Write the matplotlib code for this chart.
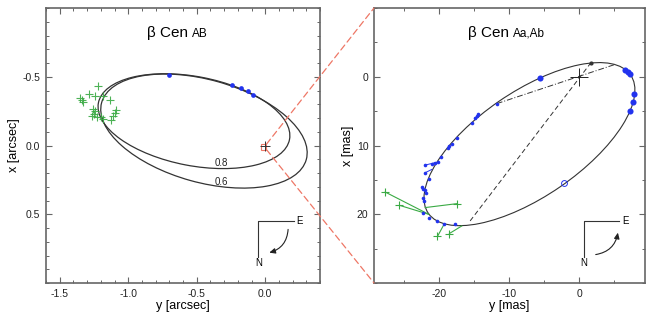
import matplotlib
matplotlib.use("Agg")
import matplotlib.pyplot as plt
from matplotlib.patches import Ellipse, Rectangle, FancyArrowPatch, ConnectionPatch
from matplotlib.ticker import MultipleLocator, FixedLocator, FormatStrFormatter

plt.rcParams['font.family'] = ['Liberation Sans', 'DejaVu Sans']
plt.rcParams['axes.unicode_minus'] = False

BLUE = '#2233ee'
GREEN = '#3aaa44'
RED = '#ee7766'
SPINE = '#666666'

# ---- left panel: beta Cen AB (arcsec) ----
ab_xticks = [-1.5, -1.0, -0.5, 0.0]
ab_yticks = [-0.5, 0.0, 0.5]

ab_obs_y = [-0.70, -0.243, -0.175, -0.126, -0.090]
ab_obs_x = [-0.514, -0.44, -0.418, -0.393, -0.367]

ab_old_y = [-1.218, -1.283, -1.24, -1.351, -1.332, -1.181, -1.13, -1.259, -1.24,
            -1.247, -1.266, -1.227, -1.181, -1.125, -1.108, -1.09, -1.10, -1.198,
            -1.337]
ab_old_x = [-0.43, -0.377, -0.362, -0.343, -0.319, -0.357, -0.331, -0.266, -0.249,
            -0.232, -0.213, -0.208, -0.196, -0.183, -0.217, -0.256, -0.237, -0.208,
            -0.328]

# orbit solutions: (centre y, centre x, 2a, 2b, angle, label, label y, label x)
ab_orbits = [(-0.52, -0.177, 1.42, 0.648, 10.8, '0.8', -0.32, 0.130),
             (-0.447, -0.105, 1.55, 0.746, 15.5, '0.6', -0.32, 0.266)]

# ---- right panel: beta Cen Aa,Ab (mas) ----
aa_xticks = [-20, -10, 0]
aa_yticks = [0, 10, 20]

aa_orbit = (-7.1, 9.8, 35.2, 15.2, -35.0)

aa_big_y = [-5.57, 6.57, 6.95, 7.19, 7.76, 7.67, 7.19]
aa_big_x = [0.19, -1.0, -0.62, -0.43, 2.51, 3.67, 4.93]

aa_small_y = [-11.76, -14.4, -14.6, -14.86, -15.33, -17.47, -18.19, -18.52, -18.76,
              -19.71, -20.1, -20.57, -21.04, -22.0, -22.0, -21.4, -22.47, -22.24,
              -21.86, -22.24, -22.14, -22.24, -21.5, -20.33, -19.29, -17.7, -22.0]
aa_small_x = [3.91, 5.36, 5.75, 5.99, 6.71, 8.89, 9.71, 10.0, 10.34,
              11.69, 12.42, 12.51, 12.66, 12.85, 13.96, 14.93, 15.99, 16.27,
              16.86, 17.58, 18.07, 19.76, 20.58, 20.97, 21.35, 21.45, 16.4]

# residual segments of small points (obs -> orbit)
aa_seg_y = [(-22.0, -20.6), (-22.0, -21.04), (-14.6, -14.9)]
aa_seg_x = [(12.85, 12.5), (13.96, 13.48), (5.75, 6.0)]

aa_open_y = [-2.1]
aa_open_x = [15.4]

# green crosses with lines to predicted positions
aa_cross_y = [-27.7, -25.67, -17.38, -20.24, -18.53]
aa_cross_x = [16.77, 18.7, 18.45, 23.23, 22.8]
aa_pred_y = [-21.5, -21.5, -22.0, -19.29, -16.76]
aa_pred_x = [20.0, 20.0, 19.03, 21.45, 21.7]

node_y = [-11.76, 5.0]
node_x = [3.91, -1.75]
apsis_y = [1.7, -15.57]
apsis_x = [-2.07, 20.97]

fig = plt.figure(figsize=(6.54, 3.17), dpi=100)
ax1 = fig.add_axes([46 / 654, 34 / 317, 274 / 654, 275 / 317])
ax2 = fig.add_axes([374 / 654, 34 / 317, 271 / 654, 275 / 317])


def style_axes(ax, xticks, yticks, minor, fmt):
    for s in ax.spines.values():
        s.set_color(SPINE)
        s.set_linewidth(1.2)
    ax.xaxis.set_major_locator(FixedLocator(xticks))
    ax.xaxis.set_minor_locator(MultipleLocator(minor))
    ax.yaxis.set_major_locator(FixedLocator(yticks))
    ax.yaxis.set_minor_locator(MultipleLocator(minor))
    ax.xaxis.set_major_formatter(FormatStrFormatter(fmt))
    ax.yaxis.set_major_formatter(FormatStrFormatter(fmt))
    ax.tick_params(which='both', direction='in', top=True, right=True,
                   color=SPINE, labelsize=7.5, labelcolor='#222222')
    ax.tick_params(which='major', length=4, width=0.8, pad=4)
    ax.tick_params(which='minor', length=2, width=0.7)


def compass(ax, arrow_start, arrow_end, rad):
    ax.plot([0.775, 0.775, 0.905], [0.095, 0.2255, 0.2255], color='#333333',
            lw=0.8, transform=ax.transAxes)
    ax.text(0.915, 0.2255, 'E', transform=ax.transAxes, fontsize=7,
            ha='left', va='center')
    ax.text(0.775, 0.072, 'N', transform=ax.transAxes, fontsize=7,
            ha='center', va='center')
    arr = FancyArrowPatch(arrow_start, arrow_end, transform=ax.transAxes,
                          connectionstyle='arc3,rad=%s' % rad,
                          arrowstyle='-|>,head_length=3.5,head_width=1.6',
                          color='#222222', lw=0.8)
    ax.add_patch(arr)


# left panel
style_axes(ax1, ab_xticks, ab_yticks, 0.1, '%.1f')
ax1.set_xlim(-1.6, 0.4)
ax1.set_ylim(1.0, -1.0)
for cy, cx, w, h, ang, lab, ly, lx in ab_orbits:
    ax1.add_patch(Ellipse((cy, cx), w, h, angle=ang, fill=False,
                          edgecolor='#333333', lw=0.9))
    ax1.text(ly, lx, lab, fontsize=7, ha='center', va='center', color='#222222')
ax1.plot(ab_old_y, ab_old_x, '+', color=GREEN, ms=6, mew=0.8, alpha=0.9)
ax1.plot(ab_obs_y, ab_obs_x, 'o', color=BLUE, ms=3.4, mew=0)
ax1.plot([0], [0], '+', color='#333333', ms=7, mew=0.7)
zoom_box = Rectangle((-0.0293, -0.010), 0.0387, 0.040, fill=False,
                     edgecolor=RED, lw=0.8)
ax1.add_patch(zoom_box)
ax1.text(0.518, 0.896, 'β Cen', transform=ax1.transAxes, fontsize=11,
         ha='right', va='baseline')
ax1.text(0.532, 0.896, 'AB', transform=ax1.transAxes, fontsize=8.5,
         ha='left', va='baseline')
ax1.set_xlabel('y [arcsec]', fontsize=9, labelpad=1)
ax1.set_ylabel('x [arcsec]', fontsize=9, labelpad=2)
compass(ax1, (0.884, 0.205), (0.805, 0.108), -0.4)

# right panel
style_axes(ax2, aa_xticks, aa_yticks, 5, '%d')
ax2.set_xlim(-29.3, 9.4)
ax2.set_ylim(30, -10)
cy, cx, w, h, ang = aa_orbit
ax2.add_patch(Ellipse((cy, cx), w, h, angle=ang, fill=False,
                      edgecolor='#333333', lw=0.8))
ax2.plot(node_y, node_x, color='#333333', lw=0.7, dashes=[6, 2, 1, 2])
ax2.plot(apsis_y, apsis_x, color='#333333', lw=0.7, dashes=[5, 3])
ax2.plot([apsis_y[0]], [apsis_x[0]], 'o', color='#333333', ms=2)
for sy, sx in zip(aa_seg_y, aa_seg_x):
    ax2.plot(sy, sx, color=BLUE, lw=0.7)
for i in range(len(aa_cross_y)):
    ax2.plot([aa_cross_y[i], aa_pred_y[i]], [aa_cross_x[i], aa_pred_x[i]],
             color=GREEN, lw=0.8)
ax2.plot(aa_cross_y, aa_cross_x, '+', color=GREEN, ms=6, mew=0.8)
ax2.plot(aa_small_y, aa_small_x, 'o', color=BLUE, ms=2.6, mew=0)
ax2.plot(aa_big_y, aa_big_x, 'o', color=BLUE, ms=4.4, mew=0)
ax2.plot(aa_open_y, aa_open_x, 'o', mfc='none', mec=BLUE, ms=4.2, mew=0.7)
ax2.plot([0], [0], '+', color='#222222', ms=13, mew=0.7)
ax2.text(0.497, 0.896, 'β Cen', transform=ax2.transAxes, fontsize=11,
         ha='right', va='baseline')
ax2.text(0.511, 0.896, 'Aa,Ab', transform=ax2.transAxes, fontsize=8.5,
         ha='left', va='baseline')
ax2.set_xlabel('y [mas]', fontsize=9, labelpad=1)
ax2.set_ylabel('x [mas]', fontsize=9, labelpad=2)
compass(ax2, (0.808, 0.102), (0.9015, 0.193), 0.4)

# dashed connectors from zoom box to the right panel
for by, ty in [(-0.010, -10), (0.030, 30)]:
    con = ConnectionPatch(xyA=(0.0094, by), coordsA=ax1.transData,
                          xyB=(-29.3, ty), coordsB=ax2.transData,
                          color=RED, lw=0.9, linestyle=(0, (5, 3)))
    fig.add_artist(con)

fig.savefig('out.png', dpi=100)
